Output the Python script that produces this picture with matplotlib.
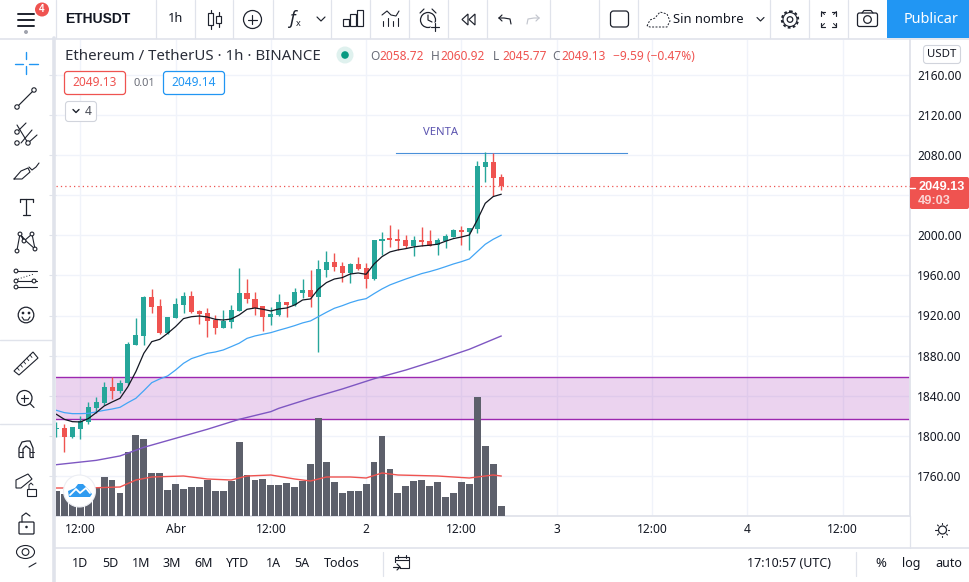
import matplotlib
matplotlib.use("Agg")
import matplotlib.pyplot as plt
from matplotlib.patches import Circle, Ellipse, FancyBboxPatch, Polygon, Rectangle

plt.rcParams['font.family'] = ['Noto Sans', 'DejaVu Sans']

# hours counted from 12:00 on 31 March, one candle per hour
hours = list(range(-3, 54))

opens = [1806.6, 1807.9, 1799.2, 1807.2, 1813.5, 1828.2, 1833.2, 1848.8, 1844.8, 1852.4,
         1891.0, 1900.0, 1938.6, 1929.6, 1902.7, 1918.0, 1930.9, 1939.6, 1924.6, 1922.6,
         1915.6, 1908.0, 1914.0, 1924.6, 1942.6, 1936.6, 1929.6, 1918.6, 1920.6, 1933.6,
         1930.6, 1942.6, 1945.6, 1938.6, 1965.5, 1973.5, 1969.5, 1962.5, 1971.5, 1967.5,
         1956.5, 1994.5, 1997.4, 1996.4, 1995.4, 1989.5, 1995.4, 1994.5, 1990.5, 1994.5,
         1998.4, 2005.4, 2003.4, 2006.4, 2068.3, 2073.3, 2058.72]
closes = [1807.9, 1799.2, 1808.6, 1815.2, 1828.8, 1833.8, 1848.8, 1844.8, 1852.8, 1891.7,
          1900.7, 1938.6, 1928.9, 1902.7, 1918.6, 1931.6, 1939.6, 1923.6, 1921.9, 1915.0,
          1908.0, 1914.6, 1925.6, 1942.6, 1936.6, 1927.6, 1918.6, 1921.6, 1933.6, 1930.6,
          1943.6, 1945.6, 1938.6, 1966.5, 1973.5, 1968.5, 1962.5, 1971.5, 1966.5, 1956.5,
          1995.4, 1996.4, 1995.4, 1994.5, 1989.5, 1995.4, 1993.5, 1989.5, 1995.4, 1999.4,
          2005.4, 2003.4, 2007.4, 2069.3, 2073.3, 2057.3, 2049.13]
highs = [1814.2, 1811.9, 1809.2, 1819.9, 1833.8, 1838.5, 1853.4, 1859.1, 1855.8, 1893.7,
         1917.6, 1939.6, 1946.5, 1936.6, 1918.9, 1937.2, 1943.6, 1944.6, 1925.6, 1927.6,
         1920.6, 1925.6, 1930.9, 1967.5, 1956.5, 1943.6, 1929.6, 1928.9, 1941.6, 1933.6,
         1947.6, 1956.5, 1965.5, 1975.5, 1984.5, 1982.5, 1973.5, 1972.2, 1978.5, 1972.5,
         1995.4, 2003.4, 2010.4, 2006.4, 2000.4, 1999.4, 2008.4, 2005.4, 1997.4, 2001.4,
         2006.4, 2009.4, 2007.4, 2074.3, 2083.2, 2082.2, 2060.92]
lows = [1798.6, 1784.3, 1797.9, 1796.6, 1811.9, 1823.2, 1830.8, 1836.8, 1842.8, 1850.8,
        1890.7, 1891.0, 1922.6, 1902.0, 1901.7, 1917.6, 1922.6, 1922.6, 1912.0, 1899.0,
        1901.7, 1907.6, 1908.0, 1924.6, 1932.6, 1920.6, 1904.7, 1910.6, 1919.9, 1919.0,
        1929.6, 1937.6, 1928.9, 1883.7, 1958.5, 1964.5, 1953.6, 1952.6, 1965.5, 1947.6,
        1955.5, 1980.5, 1988.5, 1985.5, 1987.5, 1979.5, 1989.5, 1989.5, 1980.5, 1987.5,
        1998.0, 1990.5, 1985.5, 2002.4, 2053.3, 2039.3, 2045.77]

volumes = [25, 22, 20, 20, 22, 28, 39, 36, 23, 64, 81, 77, 43, 43, 26, 32, 27, 29, 29,
           36, 25, 25, 35, 74, 41, 36, 37, 31, 31, 33, 29, 35, 52, 98, 54, 34, 23, 25,
           25, 32, 54, 80, 47, 23, 30, 35, 36, 30, 34, 19, 23, 34, 32, 119, 70, 52, 10]

ema_fast = [1821.5, 1816.5, 1814.2, 1813.9, 1817.2, 1823.2, 1829.8, 1833.8, 1837.5, 1849.1,
            1864.1, 1882.4, 1894.0, 1896.3, 1902.3, 1909.0, 1917.0, 1918.9, 1919.6, 1918.6,
            1916.3, 1915.6, 1916.6, 1920.6, 1926.3, 1927.6, 1926.3, 1924.6, 1926.6, 1927.6,
            1930.6, 1935.6, 1936.6, 1946.6, 1952.9, 1956.5, 1957.9, 1961.5, 1962.5, 1961.2,
            1971.5, 1978.8, 1983.5, 1985.5, 1986.8, 1988.5, 1989.5, 1990.2, 1991.2, 1994.2,
            1996.8, 1998.4, 2000.4, 2015.4, 2032.0, 2038.7, 2041.0]
ema_mid = [1825.5, 1823.2, 1822.2, 1822.2, 1822.5, 1823.9, 1825.5, 1826.8, 1828.5, 1833.2,
           1837.5, 1845.1, 1853.1, 1856.8, 1859.8, 1865.7, 1872.4, 1877.1, 1879.7, 1882.4,
           1883.7, 1885.7, 1889.0, 1892.4, 1897.3, 1899.7, 1901.4, 1903.0, 1905.4, 1907.6,
           1910.0, 1912.7, 1914.7, 1919.0, 1923.3, 1927.3, 1929.9, 1932.9, 1935.3, 1936.9,
           1941.9, 1946.6, 1950.6, 1953.6, 1956.5, 1959.2, 1961.9, 1963.9, 1966.2, 1968.8,
           1971.5, 1973.8, 1976.5, 1983.8, 1991.1, 1996.1, 2000.1]

ema_slow_hours = [-3, 2, 5, 8, 12, 16, 20, 24, 25, 29, 33, 37, 41, 45, 49, 53]
ema_slow = [1771.3, 1775.6, 1780.0, 1788.6, 1797.6, 1806.6, 1816.5, 1824.2, 1827.5, 1837.5,
            1846.8, 1857.0, 1865.7, 1875.7, 1886.4, 1899.6]

vol_ma_hours = [-3, 1, 5, 7, 9, 13, 16, 19, 21, 24, 27, 29, 31, 34, 36, 38, 40, 45, 49, 52, 53]
vol_ma = [28, 28, 29, 36, 39, 40, 37, 36, 40, 41, 37, 35, 39, 39, 38, 43, 41, 40, 38, 41, 40]

price_ticks = [1760, 1800, 1840, 1880, 1920, 1960, 2000, 2040, 2080, 2120, 2160]
price_labels = [1760, 1800, 1840, 1880, 1920, 1960, 2000, None, 2080, 2120, 2160]
time_ticks = [0, 12, 24, 36, 48, 60, 72, 84, 96]
time_labels = ['12:00', 'Abr', '12:00', '2', '12:00', '3', '12:00', '4', '12:00']

zone_low, zone_high = 1816.4, 1858.8
sell_level, sell_start, sell_end = 2081.7, 39.8, 68.9
last_price = 2049.13

range_buttons = ['1D', '5D', '1M', '3M', '6M', 'YTD', '1A', '5A', 'Todos']
range_x = [80, 110, 141, 172, 204, 238, 273, 302, 342]

GREEN = '#26a69a'
RED = '#ef5350'
GRID = '#f0f3fa'
LINE = '#e0e3eb'
TEXT = '#131722'
ICON = '#1e222d'

XLIM = (-3.06, 104.5)
YLIM = (1720.1, 2194.9)

fig = plt.figure(figsize=(9.69, 5.82), dpi=100, facecolor='white')

# base layer: grid and the purple zone
ax = fig.add_axes([56 / 969, 1 - 516 / 582, 854 / 969, 476 / 582])
ax.set_xlim(*XLIM)
ax.set_ylim(*YLIM)
ax.set_xticks(time_ticks)
ax.set_yticks(price_ticks)
ax.grid(True, color=GRID, lw=1)
ax.set_axisbelow(True)
ax.tick_params(left=False, bottom=False, right=True, labelleft=False, labelbottom=False,
               length=5, color=LINE, direction='out')
for s in ['top', 'left']:
    ax.spines[s].set_visible(False)
for s in ['right', 'bottom']:
    ax.spines[s].set_color(LINE)
    ax.spines[s].set_linewidth(1.3)

ax.axhspan(zone_low, zone_high, color='#9c27b0', alpha=0.2, lw=0)
ax.axhline(zone_low, color='#9c27b0', lw=1.0)
ax.axhline(zone_high, color='#9c27b0', lw=1.0)

# volume pane on the same rectangle, one unit is about a pixel
ax_vol = ax.twinx()
ax_vol.set_ylim(0, 476)
ax_vol.axis('off')
ax_vol.bar(hours, volumes, width=0.86, color='#5d606b')
ax_vol.plot(vol_ma_hours, vol_ma, color=RED, lw=1.0)

# candles and averages on top
ax_top = ax.twinx()
ax_top.set_ylim(*YLIM)
ax_top.axis('off')

for h, o, c, hi, lo in zip(hours, opens, closes, highs, lows):
    col = GREEN if c >= o else RED
    ax_top.plot([h, h], [lo, hi], color=col, lw=1.0, solid_capstyle='butt', zorder=3)
    ax_top.bar(h, abs(c - o), bottom=min(o, c), width=0.64, color=col, zorder=3)

ax_top.plot(hours, ema_mid, color='#42a5f5', lw=0.9, zorder=4)
ax_top.plot(ema_slow_hours, ema_slow, color='#7e57c2', lw=1.0, zorder=4)
ax_top.plot(hours, ema_fast, color='#131722', lw=0.9, zorder=4)

ax_top.axhline(last_price, color=RED, lw=0.9, ls=(0, (1, 2.5)), zorder=2)
ax_top.plot([sell_start, sell_end], [sell_level, sell_level], color='#4a90d9', lw=0.8, zorder=2)
ax_top.text(45.4, 2103, 'VENTA', color='#5c55b0', fontsize=8.1, ha='center', va='center', zorder=5)

for p, lab in zip(price_ticks, price_labels):
    if lab is not None:
        ax.annotate(f'{lab:.2f}', (1, p), xycoords=('axes fraction', 'data'),
                    xytext=(37, -1), textcoords='offset points', ha='right',
                    va='center', fontsize=8.6, color=TEXT, annotation_clip=False)
for t_, lab in zip(time_ticks, time_labels):
    ax.annotate(lab, (t_, 0), xycoords=('data', 'axes fraction'), xytext=(0, -9.5),
                textcoords='offset points', ha='center', va='center', fontsize=8.6,
                color=TEXT)

# interface chrome in pixel coordinates
ui = fig.add_axes([0, 0, 1, 1], zorder=10)
ui.set_xlim(0, 969)
ui.set_ylim(582, 0)
ui.axis('off')


def seg(xs, ys, c=ICON, lw=0.85, **kw):
    ui.plot(xs, ys, color=c, lw=lw, solid_capstyle='round', **kw)


def dot(x, y, r=2.2, ec=ICON, fc='white', lw=0.8):
    ui.add_patch(Circle((x, y), r, fc=fc, ec=ec, lw=lw, zorder=5))


def box(x, y, w, h, ec=ICON, fc='none', lw=0.9, r=2):
    ui.add_patch(FancyBboxPatch((x + r, y + r), w - 2 * r, h - 2 * r,
                                boxstyle=f'round,pad={r}', fc=fc, ec=ec, lw=lw))


def t(x, y, s, size=9.2, c=TEXT, ha='left', **kw):
    ui.text(x, y, s, fontsize=size, color=c, ha=ha, va='center', **kw)


# frame lines
seg([0, 969], [38.5, 38.5], LINE, 1.2)
seg([54, 54], [38, 582], LINE, 2.6)
seg([54, 969], [548, 548], LINE, 1.2)
seg([0, 52], [339.5, 339.5], LINE, 1.0)
seg([0, 52], [424, 424], LINE, 1.0)
for x in [56, 156, 195, 233, 273, 331, 370, 409, 448, 487, 550, 599, 638, 770, 809, 848]:
    seg([x, x], [0, 38], LINE, 0.9)
seg([910, 910], [516, 548], LINE, 0.9)
for x in [383, 856]:
    seg([x, x], [552, 576], LINE, 0.9)

# top toolbar
for y in [13.5, 19.5, 25.5]:
    seg([18, 34], [y, y], ICON, 1.4)
dot(26, 32, 1.4, '#a0a3ad', '#a0a3ad')
ui.add_patch(Circle((42, 9.5), 7, fc=RED, ec='none', zorder=6))
ui.text(42, 9.5, '4', color='white', fontsize=7, ha='center', va='center',
        family='Liberation Sans', weight='bold', zorder=7)
t(65, 19, 'ETHUSDT', 10, TEXT, family='Liberation Sans', weight='bold')
t(176, 19, '1h', 9.2, TEXT, ha='center')
# candle icon
seg([211, 211], [10, 29])
seg([219, 219], [12, 27])
ui.add_patch(Rectangle((208.5, 13), 5, 12, fc='white', ec=ICON, lw=0.85, zorder=5))
ui.add_patch(Rectangle((216.5, 16), 5, 7, fc='white', ec=ICON, lw=0.85, zorder=5))
# plus icon
ui.add_patch(Circle((252.5, 19.5), 9, fc='none', ec=ICON, lw=0.9))
seg([248, 257], [19.5, 19.5])
seg([252.5, 252.5], [15, 24])
t(292, 19, 'f', 13, ICON, ha='center', style='italic')
t(298, 24, 'x', 6.5, ICON, ha='center')
seg([317, 321, 325], [17, 21, 17])
# bars icon
for x0, hh in [(343, 7), (350, 12), (357, 16)]:
    ui.add_patch(Rectangle((x0, 26 - hh), 6, hh, fc='none', ec=ICON, lw=0.85))
# indicator icon
for x0, hh in [(383, 5), (388, 8), (393, 5), (398, 8)]:
    seg([x0, x0], [26, 26 - hh], lw=0.8)
seg([382, 387, 391, 396, 399], [15, 11, 15, 16, 11], lw=0.8)
# alarm
ui.add_patch(Circle((428, 20), 7.5, fc='none', ec=ICON, lw=0.9))
seg([428, 428, 432], [15, 20, 22])
seg([420, 424], [13, 9])
seg([436, 432], [13, 9])
ui.add_patch(Circle((435, 27), 4.5, fc='white', ec='none', zorder=4))
seg([431, 439], [27, 27], zorder=5)
seg([435, 435], [23, 31], zorder=5)
# replay
ui.add_patch(Polygon([[468, 14], [462, 19.5], [468, 25]], fc='none', ec=ICON, lw=0.85))
ui.add_patch(Polygon([[475, 14], [469, 19.5], [475, 25]], fc='none', ec=ICON, lw=0.85))
# undo redo
seg([499, 504, 510, 511], [18, 18, 19, 24])
seg([499, 502], [18, 15])
seg([499, 502], [18, 21])
seg([539, 534, 528, 527], [18, 18, 19, 24], '#c3c6ce')
seg([539, 536], [18, 15], '#c3c6ce')
seg([539, 536], [18, 21], '#c3c6ce')
box(610.5, 11, 18, 16, r=3)
# cloud
ui.plot([647, 650, 655, 660, 667, 670, 667, 650, 647],
        [26, 20, 18, 12, 14, 21, 27, 27, 26], color=ICON, lw=0.7, ls=(0, (2, 1.5)))
t(673, 19.5, 'Sin nombre', 9.3, TEXT)
seg([757, 760.5, 764], [17.5, 21, 17.5])
# gear
ui.add_patch(Circle((790, 19.5), 8.2, fc='none', ec=ICON, lw=1.4, ls=(0, (1.4, 1.2))))
ui.add_patch(Circle((790, 19.5), 7, fc='white', ec=ICON, lw=0.8))
ui.add_patch(Circle((790, 19.5), 2.8, fc='none', ec=ICON, lw=0.9))
# fullscreen
for sx, sy in [(-1, -1), (1, -1), (-1, 1), (1, 1)]:
    cx, cy = 829 + sx * 7.5, 19 + sy * 7.5
    seg([cx - sx * 4, cx, cx], [cy, cy, cy - sy * 4])
    seg([cx, cx - sx * 3], [cy, cy - sy * 3], lw=0.7)
# camera
box(857.5, 13, 20, 13.5, r=2)
seg([862, 864, 871, 873], [13, 10.5, 10.5, 13])
ui.add_patch(Circle((867.5, 19.5), 3.8, fc='none', ec=ICON, lw=0.9))
ui.add_patch(Rectangle((887, 0), 82, 38, fc='#2196f3', ec='none'))
ui.text(931, 19.5, 'Publicar', color='white', fontsize=10.4, ha='center', va='center')

# legend row
t(65, 56.5, 'Ethereum / TetherUS · 1h · BINANCE', 10.8, '#2a2e39')
ui.add_patch(Circle((345, 55), 8.5, fc='#dff1ee', ec='none'))
ui.add_patch(Circle((345, 55), 3.8, fc='#089981', ec='none'))
for xo, lab, val in [(370, 'O', '2058.72'), (431, 'H', '2060.92'), (493, 'L', '2045.77'), (552, 'C', '2049.13')]:
    t(xo, 57, lab, 8.6, '#6a6d78')
    t(xo + 9, 57, val, 8.6, RED)
t(613, 57, '−9.59 (−0.47%)', 8.6, RED)
box(64.5, 71.5, 61, 23, RED, 'white', 0.9, 3)
t(95, 83, '2049.13', 8.6, RED, ha='center')
t(144, 83, '0.01', 8.0, '#6a6d78', ha='center')
box(163.5, 71.5, 61, 23, '#2196f3', 'white', 0.9, 3)
t(194, 83, '2049.14', 8.6, '#2196f3', ha='center')
box(65.5, 101.5, 31, 20, '#d1d4dc', 'white', 0.8, 3)
seg([73, 76, 79], [109.5, 112.5, 109.5], lw=1.0)
t(88, 111.5, '4', 8.6, '#4a4d57', ha='center')

# axis chrome
box(923.5, 45.5, 37, 18, '#d1d4dc', 'white', 0.8, 3)
t(942, 54.5, 'USDT', 8.2, TEXT, ha='center')
ui.add_patch(FancyBboxPatch((912, 179), 55, 28, boxstyle='round,pad=2', fc=RED, ec='none'))
seg([910, 915], [188, 188], 'white', 1)
ui.text(941.5, 187.5, '2049.13', color='white', fontsize=9.2, ha='center', va='center',
        family='Liberation Sans', weight='bold')
ui.text(934.5, 201, '49:03', color='#fbd5d4', fontsize=9.2, ha='center', va='center',
        family='Liberation Sans', weight='bold')

# sun icon on the time axis
ui.add_patch(Circle((942.5, 530), 4, fc='none', ec=ICON, lw=0.9))
for dx, dy in [(0, -7), (0, 7), (-7, 0), (7, 0), (-5, -5), (5, -5), (-5, 5), (5, 5)]:
    seg([942.5 + dx * 0.8, 942.5 + dx], [530 + dy * 0.8, 530 + dy], lw=0.8)

# logo badge
ui.add_patch(Circle((79.5, 491), 16, fc='white', ec='#eceef3', lw=0.8))
ui.add_patch(Polygon([[69, 497], [68, 491], [75, 488], [78, 484], [83, 484], [88, 489], [92, 494], [90, 497]],
                     fc='#2f9bf0', ec='none', zorder=5))
seg([70, 76, 80, 86, 90], [495, 489, 493, 488, 493], 'white', 1.3, zorder=6)

# bottom toolbar
for x, lab in zip(range_x, range_buttons):
    t(x, 563.5, lab, 9.0, TEXT, ha='center')
ui.add_patch(Rectangle((395, 557), 14, 11, fc='none', ec=ICON, lw=0.8))
seg([395, 409], [560, 560], lw=0.8)
seg([398, 398], [555, 558], lw=0.8)
seg([406, 406], [555, 558], lw=0.8)
ui.add_patch(Rectangle((393, 563), 7, 8, fc='white', ec='none', zorder=4))
seg([393, 400], [567, 567], zorder=5)
seg([397, 400, 397], [564, 567, 570], zorder=5)
t(747, 563.5, '17:10:57 (UTC)', 9.0, TEXT)
t(881, 563.5, '%', 9.4, TEXT, ha='center')
t(911, 563.5, 'log', 9.0, TEXT, ha='center')
t(949, 563.5, 'auto', 9.0, TEXT, ha='center')

# left toolbar icons
seg([26, 26], [52, 59], '#2196f3', 1.0)
seg([26, 26], [66, 74], '#2196f3', 1.0)
seg([15, 23], [63.5, 63.5], '#2196f3', 1.0)
seg([29, 38], [63.5, 63.5], '#2196f3', 1.0)
seg([17, 34], [107, 90])
dot(17, 107)
dot(34, 90)
# pitchfork
seg([17, 26], [132, 123], lw=0.8)
seg([21, 32], [143, 130], lw=0.8)
seg([28, 37], [143, 135], lw=0.8)
seg([17, 28], [125, 143], lw=0.8)
dot(17, 143)
dot(28, 143)
dot(17, 132)
# brush
seg([14, 21, 28, 30, 22, 14], [179, 171, 168, 172, 179, 179], lw=0.8)
seg([29, 32, 36, 39], [167, 170, 167, 163], lw=0.8)
# text tool
seg([20, 33], [199, 199], lw=0.9)
seg([26.5, 26.5], [199, 215], lw=0.9)
seg([23, 30], [215, 215], lw=0.9)
seg([20, 20], [199, 202], lw=0.9)
seg([33, 33], [199, 202], lw=0.9)
seg([17, 20, 24, 32, 35, 26, 20], [250, 234, 241, 234, 249, 241, 234], lw=0.8)
for px, py in [(17, 251), (20, 234), (24, 241), (32, 234), (35, 249)]:
    dot(px, py, 1.9)
seg([15, 37], [271, 271], lw=0.8)
seg([15, 37], [281, 281], lw=0.8)
seg([15, 37], [287, 287], lw=0.8)
ui.plot([18, 34], [279, 274], color=ICON, lw=0.7, ls=(0, (1, 2)))
for px, py in [(16, 271), (16, 281), (34, 281), (16, 287)]:
    dot(px, py, 1.9)
ui.add_patch(Circle((26, 315), 7.8, fc='none', ec=ICON, lw=0.9))
dot(23, 313, 0.8, ICON, ICON)
dot(29, 313, 0.8, ICON, ICON)
seg([22, 24, 28, 30], [317, 320, 320, 317], lw=0.8)
# ruler
ui.add_patch(Polygon([[14, 371], [33, 352], [38, 358], [19, 375]], fc='none', ec=ICON, lw=0.8))
for k in range(1, 6):
    x0, y0 = 14 + k * 3.2, 371 - k * 3.2
    seg([x0, x0 + 2], [y0, y0 + 2.5], lw=0.6)
ui.add_patch(Circle((24.5, 398), 7.5, fc='none', ec=ICON, lw=0.9))
seg([21, 28], [398, 398])
seg([24.5, 24.5], [394.5, 401.5])
seg([30, 34], [403.5, 407.5])
# magnet
seg([19, 19, 22, 27, 30, 33, 33], [457, 448, 442, 441, 441, 448, 457], lw=0.9)
seg([23, 23, 26, 30, 30], [457, 449, 446, 449, 457], lw=0.9)
seg([19, 23], [457, 457])
seg([30, 33], [457, 457])
seg([19, 23], [452, 452], lw=0.7)
seg([30, 34], [452, 452], lw=0.7)
# pencil with lock
ui.add_patch(Polygon([[16, 480], [28, 474], [32, 479], [21, 488], [16, 488]], fc='none', ec=ICON, lw=0.8))
ui.add_patch(Rectangle((27, 489), 9, 7, fc='white', ec=ICON, lw=0.8, zorder=5))
seg([29, 29, 31, 33], [489, 485, 483, 485], lw=0.7)
# lock
box(19, 522, 15, 12, r=1)
seg([22, 22, 26, 30], [522, 516, 513, 516])
dot(26.5, 527, 0.7, ICON, ICON)
# eye
ui.add_patch(Ellipse((25.5, 552), 18, 13, fc='none', ec=ICON, lw=0.8))
ui.add_patch(Circle((25.5, 552), 3.4, fc='none', ec=ICON, lw=0.8))
seg([29, 36], [567, 563], lw=0.8)

fig.savefig('out.png', dpi=100)
